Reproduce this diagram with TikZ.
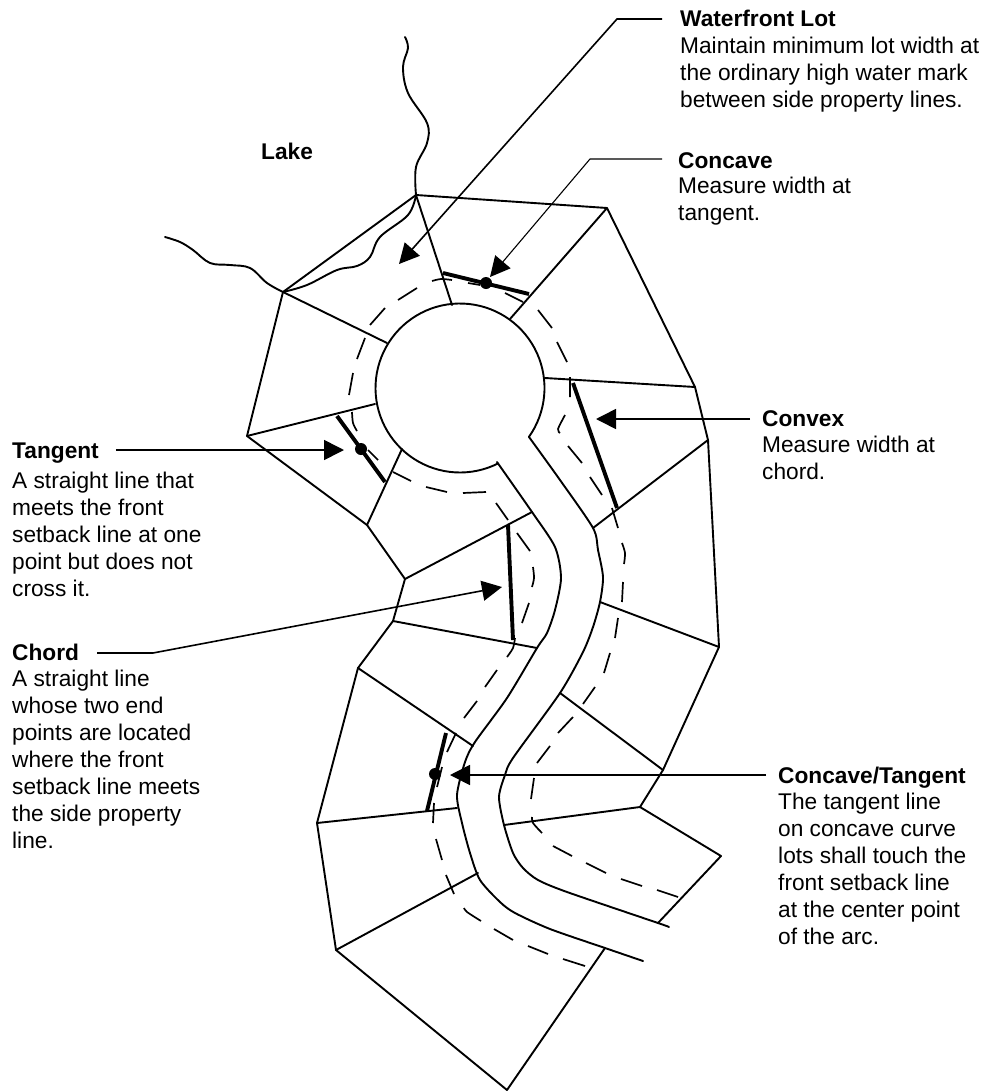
\documentclass[tikz,border=0pt]{standalone}
\usepackage{fontspec}
\setmainfont{Liberation Sans}
\usetikzlibrary{arrows.meta}
\tikzset{
  lot/.style={line width=1.9pt,line join=round,line cap=round,black},
  setback/.style={line width=1.7pt,line cap=butt,black},
  heavy/.style={line width=3.9pt,black},
  leader/.style={line width=1.6pt,black,-{Triangle[length=20pt,width=20pt]}},
  dotmark/.style={circle,fill=black,inner sep=0pt,minimum size=12pt},
  head/.style={font=\bfseries\fontsize{22.7}{27}\selectfont,inner sep=0pt,anchor=base west},
  body/.style={font=\fontsize{22.7}{27}\selectfont,inner sep=0pt,anchor=north west,align=left,execute at begin node={\rule{0pt}{18pt}}},
}
\begin{document}
\begin{tikzpicture}[x=1pt,y=-1pt]
\useasboundingbox[fill=white] (0,0) rectangle (983,1092);
% lot vertices
\foreach \n/\p in {A/{416,195},B/{283,292},C/{607,208},D/{695,387},E/{708,440},F/{719,647},G/{663,770},H/{640,807},I/{721,856},J/{658,923},
  K/{247,436},L/{367,525},M/{405,579},N/{393,621},O/{358,668},P/{317,823},Q/{336,950},R/{507,1090},S/{605,948},
  a/{452,305},b/{387,343},c/{510,319},d/{545,378},e/{375,404},f/{402,449},g/{532,512},h/{537,648},i/{473,746},j/{457,808},k/{478,873},
  l/{593,528},m/{600,602},n/{560,693},o/{504,825}}
  \coordinate (\n) at (\p);
% lake
\draw[lot] plot[smooth,tension=.6] coordinates {(405,37)(408,48)(403,67)(408,93)(427,123)(427,143)(416,167)(416,195)};
\draw[lot] plot[smooth,tension=.6] coordinates {(416,195)(408,215)(380,237)(370,257)(357,266)(337,270)(307,285)(283,292)};
\draw[lot] plot[smooth,tension=.6] coordinates {(283,292)(267,283)(250,268)(230,265)(210,263)(193,250)(180,242)(165,237)};
% cul-de-sac and road
\draw[lot] plot[domain=63.4:395.4,samples=90] ({460+84.5*cos(\x)},{388+84.5*sin(\x)});
\draw[lot] plot[smooth,tension=.45] coordinates {(497,462)(532,512)(555,547)(561,578)(555,610)(547,633)(537,648)(507,698)(475,742)(465,762)(457,795)(462,823)(470,853)(480,880)(500,902)(515,913)(550,929)(605,948)(643,961)};
\draw[lot] plot[smooth,tension=.45] coordinates {(529,437)(560,480)(593,528)(598,550)(603,577)(600,602)(593,627)(583,652)(560,693)(513,758)(505,775)(499,797)(504,825)(513,853)(523,868)(538,880)(567,892)(658,923)(669,927)};
% lot lines
\draw[lot] (B)--(A)--(C)--(D)--(E)--(F)--(G)--(H)--(I)--(J);
\draw[lot] (B)--(K)--(L)--(M)--(N)--(O)--(P)--(Q)--(R)--(S);
\draw[lot] (A)--(a) (B)--(b) (C)--(c) (D)--(d) (K)--(e) (L)--(f) (M)--(g) (N)--(h) (O)--(i) (P)--(j) (Q)--(k) (E)--(l) (F)--(m) (G)--(n) (H)--(o);
% setback line
\draw[setback] (349,395)--(353,373) (357,359)--(365,338) (370,325)--(385,308) (398,300)--(417,288)
  (468,283)--(480,285) (505,293)--(523,302) (538,310)--(552,328) (557,342)--(567,362) (570,377)--(570,397)
  (568,446)--(582,463) (590,477)--(602,495) (612,508)--(618,528) (623,582)--(622,602) (618,618)--(615,638) (610,653)--(604,673) (595,687)--(583,704)
  (573,717)--(558,733) (550,746)--(537,763) (534,778)--(531,799) (553,846)--(572,856) (586,863)--(606,873) (621,879)--(642,886) (657,890)--(678,897)
  (393,472)--(411,481) (426,487)--(447,492) (463,493)--(486,492) (496,503)--(508,520) (517,533)--(530,551)
  (529,603)--(522,623) (497,670)--(485,687) (477,701)--(464,718) (456,733)--(447,752) (442,767)--(437,787) (434,803)--(433,823)
  (436,839)--(442,860) (446,875)--(454,894) (494,929)--(513,940) (528,946)--(548,954) (563,959)--(585,966)
  (368,450)--(378,460);
\foreach \pts in {{(432,281)(441,279)(452,280)},{(565,415)(558,429)(560,433)},{(622,543)(625,553)(624,564)},{(532,817)(533,823)(542,833)},
  {(352,412)(353,423)(357,431)},{(533,567)(534,578)(532,587)},{(515,638)(513,648)(507,657)},{(464,908)(467,912)(481,921)}}
  \draw[setback] plot[smooth] coordinates \pts;
% measurement lines
\coordinate (c1) at (443,273); \coordinate (c2) at (529,294);
\coordinate (v1) at (573,383); \coordinate (v2) at (617,508);
\coordinate (t1) at (337,416); \coordinate (t2) at (385,482);
\coordinate (h1) at (508,525); \coordinate (h2) at (513,640);
\coordinate (u1) at (446,733); \coordinate (u2) at (427,811);
\draw[heavy] (c1)--(c2) (v1)--(v2) (t1)--(t2) (h1)--(h2) (u1)--(u2);
\node[dotmark] (dotconcave) at (486,283) {};
\node[dotmark] (dottangent) at (361,449) {};
\node[dotmark] (dotcomb) at (435,774) {};
% texts
\node[head] (lake) at (261,159) {Lake};
\node[head] (wlot) at (680,27) {Waterfront Lot};
\node[body] (wbody) at (680,37) {Maintain minimum lot width at\\the ordinary high water mark\\between side property lines.};
\node[head] (conc) at (678,168) {Concave};
\node[body] (cbody) at (678,177) {Measure width at\\tangent.};
\node[head] (conv) at (762,426) {Convex};
\node[body] (vbody) at (762,436) {Measure width at\\chord.};
\node[head] (tang) at (12,458) {Tangent};
\node[body] (tbody) at (12,472) {A straight line that\\meets the front\\setback line at one\\point but does not\\cross it.};
\node[head] (chord) at (12,660) {Chord};
\node[body] (hbody) at (12,670) {A straight line\\whose two end\\points are located\\where the front\\setback line meets\\the side property\\line.};
\node[head] (ct) at (778,783) {Concave/Tangent};
\node[body] (ubody) at (778,793) {The tangent line\\on concave curve\\lots shall touch the\\front setback line\\at the center point\\of the arc.};
% leaders
\coordinate (wa) at (399,264); \coordinate (wb) at (617,19); \coordinate (ca) at (490,277); \coordinate (cb) at (590,159);
\coordinate (va) at (596,419); \coordinate (ta) at (344,450); \coordinate (ha) at (502,587); \coordinate (hb) at (153,653); \coordinate (ua) at (450,775);
\draw[leader] ([xshift=-18pt]wlot.west |- 0,19) -- (wb) -- (wa);
\draw[leader,line width=1.1pt] ([xshift=-16pt]conc.west |- 0,159) -- (cb) -- (ca);
\draw[leader] ([xshift=-12pt]conv.west |- 0,419) -- (va);
\draw[leader] ([xshift=17pt]tang.east |- 0,450) -- (ta);
\draw[leader] ([xshift=18pt]chord.east |- 0,653) -- (hb) -- (ha);
\draw[leader] ([xshift=-12pt]ct.west |- 0,775) -- (ua);
\end{tikzpicture}
\end{document}
